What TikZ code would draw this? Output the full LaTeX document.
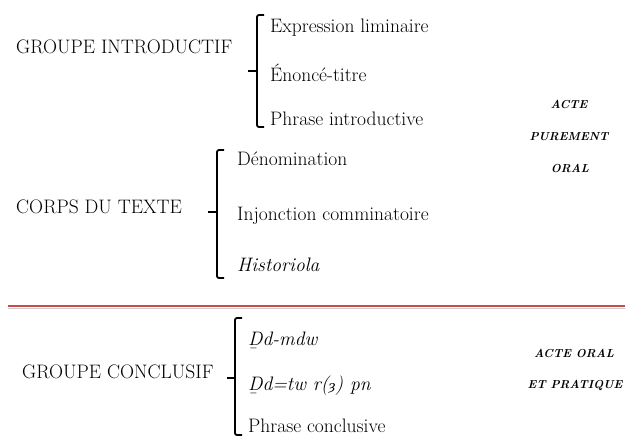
\documentclass[tikz,border=0pt]{standalone}
\usepackage{fontspec}
\newfontfamily\egyfont{DejaVu Serif}
\begin{document}
\begin{tikzpicture}[
  x=1pt, y=-1pt,
  part/.style={anchor=base west, inner sep=0pt, font=\fontsize{19.5}{23}\selectfont},
  item/.style={anchor=base west, inner sep=0pt, font=\fontsize{19.5}{23}\selectfont},
  translit/.style={anchor=base west, inner sep=0pt, font=\fontsize{19.5}{23}\selectfont\itshape},
  acte/.style={anchor=base, inner sep=0pt, font=\fontsize{11.6}{14}\selectfont\bfseries\itshape},
  bracket/.style={draw, line width=1.8pt, rounded corners=2pt},
  divider/.style={line width=2.6pt, draw={rgb,255:red,200;green,75;blue,75}}
]
\useasboundingbox (0,0) rectangle (625,437);

% Groupe introductif
\node[part] (gi) at (16,53) {GROUPE INTRODUCTIF};
\node[item] (expr) at (270,32) {Expression liminaire};
\node[item] (enon) at (270,81) {Énoncé-titre};
\node[item] (phin) at (270,125) {Phrase introductive};
\draw[bracket] (264,15) -- (257,15) -- (257,127) -- (264,127);
\draw[bracket] (248,71) -- (257,71);

% Corps du texte
\node[part] (ct) at (16,213) {CORPS DU TEXTE};
\node[item] (deno) at (237,165) {Dénomination};
\node[item] (injo) at (237,220) {Injonction comminatoire};
\node[item, font=\fontsize{19.5}{23}\selectfont\itshape] (hist) at (237,271) {Historiola};
\draw[bracket] (224,150) -- (217,150) -- (217,278) -- (224,278);
\draw[bracket] (208,212) -- (217,212);

% Acte purement oral
\node[acte] (a1) at (569,108) {ACTE};
\node[acte] (a2) at (569,140) {PUREMENT};
\node[acte] (a3) at (570,172) {ORAL};

% Separation
\draw[gray!40, line width=1pt] (8,308.5) -- (625,308.5);
\draw[divider] (8,306) -- (625,306);

% Groupe conclusif
\node[part] (gc) at (22,378) {GROUPE CONCLUSIF};
\node[translit] (ddm) at (248,345) {Ḏd-mdw};
\node[translit] (ddt) at (248,390) {Ḏd=tw r({\egyfont\fontsize{13}{15}\selectfont ȝ}) pn};
\node[item] (phco) at (248,432) {Phrase conclusive};
\draw[bracket] (242,318) -- (235,318) -- (235,435) -- (242,435);
\draw[bracket] (227,378) -- (235,378);

% Acte oral et pratique
\node[acte] (b1) at (574,357) {ACTE ORAL};
\node[acte] (b2) at (575,388) {ET PRATIQUE};

\end{tikzpicture}
\end{document}
